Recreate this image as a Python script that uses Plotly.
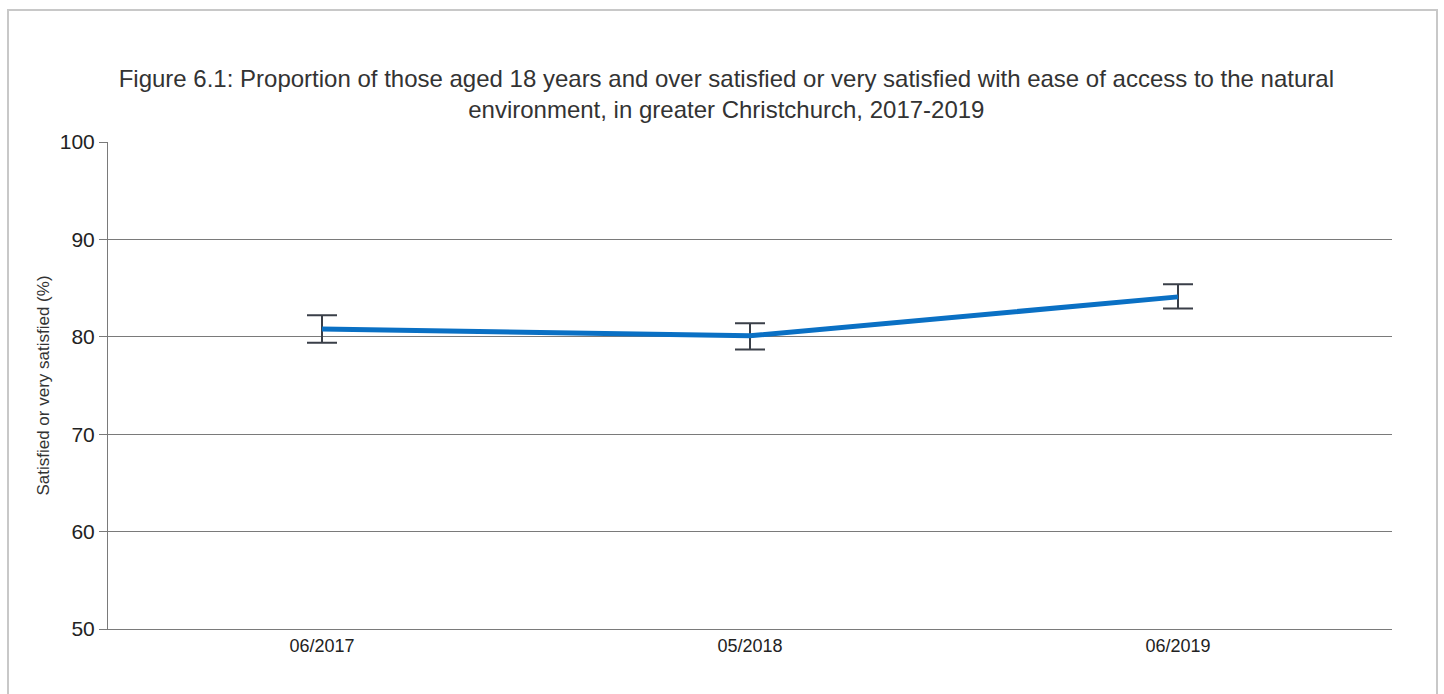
import plotly.graph_objects as go

categories = ["06/2017", "05/2018", "06/2019"]
values = [80.8, 80.1, 84.1]
err_plus = [1.4, 1.3, 1.3]
err_minus = [1.4, 1.4, 1.2]
y_ticks = [50, 60, 70, 80, 90, 100]

W, H = 1444, 694
ml, mr, mt, mb = 108, 52, 142, 65
pw, ph = W - ml - mr, H - mt - mb

fig = go.Figure()
fig.add_trace(go.Scatter(
    x=categories, y=values, mode="lines",
    line=dict(color="#0A70C4", width=5),
    error_y=dict(type="data", symmetric=False, array=err_plus, arrayminus=err_minus,
                 color="#3a3f48", thickness=2, width=15),
    showlegend=False, hoverinfo="x+y",
))

def px_x(p):
    return (p - ml) / pw

def px_y(p):
    return 1 - (p - mt) / ph

fig.add_shape(type="rect", xref="paper", yref="paper",
              x0=px_x(8), x1=px_x(1437), y0=px_y(720), y1=px_y(10),
              line=dict(color="#c8c8c8", width=2), fillcolor="rgba(0,0,0,0)", layer="below")

fig.update_layout(
    width=W, height=H,
    margin=dict(l=ml, r=mr, t=mt, b=mb),
    paper_bgcolor="white", plot_bgcolor="white",
    font=dict(family="Liberation Sans, Arial, sans-serif", color="#333333"),
    title=dict(
        text="Figure 6.1: Proportion of those aged 18 years and over satisfied or very satisfied with ease of access to the natural<br>environment, in greater Christchurch, 2017-2019",
        x=0.503, xanchor="center", xref="container", y=1 - 87 / H, yanchor="top",
        font=dict(size=24, color="#333333"),
    ),
    xaxis=dict(
        type="category", range=[-0.5, 2.5], showgrid=False,
        showline=True, linecolor="#7a7a7a", linewidth=1, mirror=False,
        ticks="", tickfont=dict(size=18, color="#222222"),
    ),
    yaxis=dict(
        range=[50, 100], tickvals=y_ticks, showgrid=True, gridcolor="#7a7a7a", gridwidth=1,
        showline=True, linecolor="#7a7a7a", linewidth=1, zeroline=False,
        ticks="outside", ticklen=8, tickcolor="#7a7a7a",
        tickfont=dict(size=21, color="#222222"),
        title=dict(text="Satisfied or very satisfied (%)", font=dict(size=17, color="#333333"), standoff=5),
    ),
)

fig.write_html("out.html")
